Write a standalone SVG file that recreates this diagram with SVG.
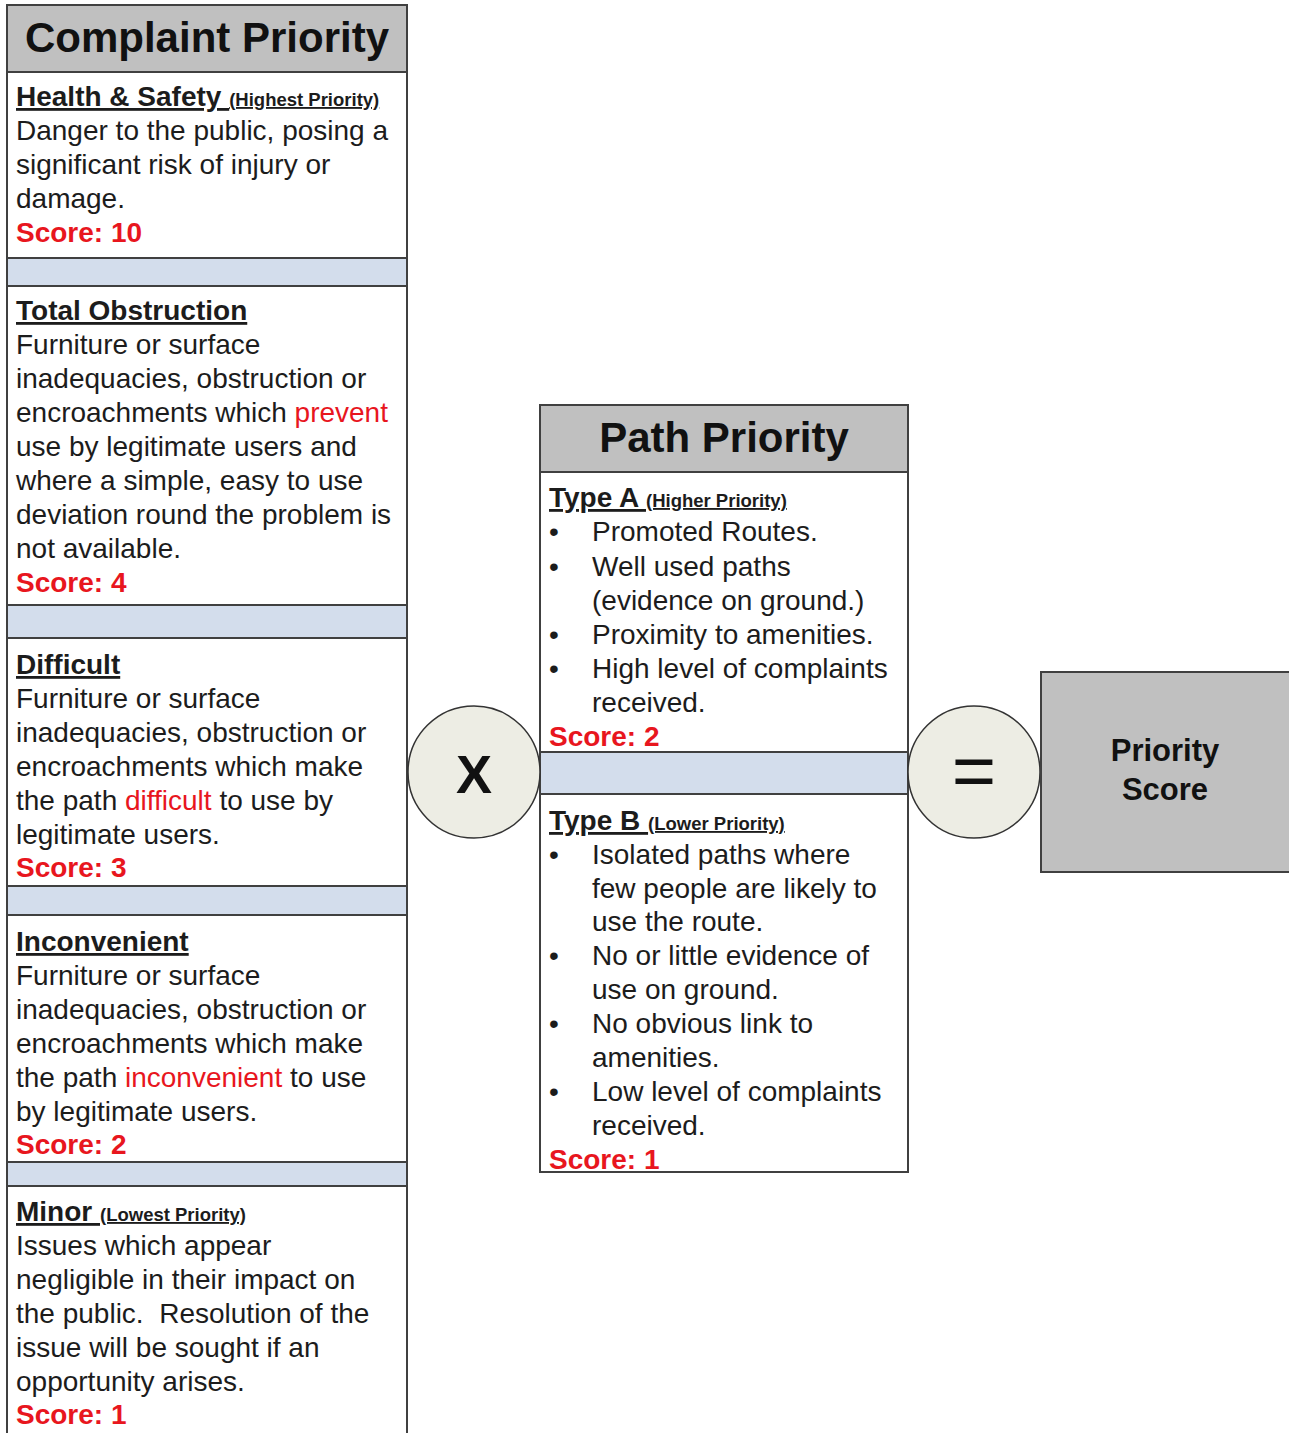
<svg xmlns="http://www.w3.org/2000/svg" width="1289" height="1433" viewBox="0 0 1289 1433">
<style>
.box{fill:#ffffff;stroke:#404040;stroke-width:2}
.hdr{fill:#c0c0c0;stroke:#404040;stroke-width:2}
.sep{fill:#d3ddec;stroke:#404040;stroke-width:2}
.op{fill:#ededE4;stroke:#333;stroke-width:1.5}
text{font-family:"Liberation Sans",Arial,sans-serif;fill:#1c1c1c}
.title{font-size:42px;font-weight:bold;text-anchor:middle;fill:#111}
.h{font-size:28px;font-weight:bold;text-decoration:underline}
.hs{font-size:18.5px}
.b{font-size:28px}
.s{font-size:28px;font-weight:bold;fill:#e8161e}
.r{fill:#e8161e}
</style>
<rect width="1289" height="1433" fill="#ffffff"/>
<g id="connectors"/>
<g id="complaint-priority">
<rect class="hdr" x="7" y="5" width="400" height="67"/>
<text class="title" x="207" y="52">Complaint Priority</text>
</g>
<g id="health-safety">
<rect class="box" x="7" y="72" width="400" height="186"/>
<text class="h" x="16" y="106">Health &amp; Safety <tspan class="hs">(Highest Priority)</tspan></text>
<text class="b" x="16" y="140">Danger to the public, posing a</text>
<text class="b" x="16" y="174">significant risk of injury or</text>
<text class="b" x="16" y="208">damage.</text>
<text class="s" x="16" y="242">Score: 10</text>
</g>
<rect class="sep" x="7" y="258" width="400" height="28"/>
<g id="total-obstruction">
<rect class="box" x="7" y="286" width="400" height="319"/>
<text class="h" x="16" y="320">Total Obstruction</text>
<text class="b" x="16" y="354">Furniture or surface</text>
<text class="b" x="16" y="388">inadequacies, obstruction or</text>
<text class="b" x="16" y="422">encroachments which <tspan class="r">prevent</tspan></text>
<text class="b" x="16" y="456">use by legitimate users and</text>
<text class="b" x="16" y="490">where a simple, easy to use</text>
<text class="b" x="16" y="524">deviation round the problem is</text>
<text class="b" x="16" y="558">not available.</text>
<text class="s" x="16" y="592">Score: 4</text>
</g>
<rect class="sep" x="7" y="605" width="400" height="33"/>
<g id="difficult">
<rect class="box" x="7" y="638" width="400" height="248"/>
<text class="h" x="16" y="674">Difficult</text>
<text class="b" x="16" y="708">Furniture or surface</text>
<text class="b" x="16" y="742">inadequacies, obstruction or</text>
<text class="b" x="16" y="776">encroachments which make</text>
<text class="b" x="16" y="810">the path <tspan class="r">difficult</tspan> to use by</text>
<text class="b" x="16" y="844">legitimate users.</text>
<text class="s" x="16" y="877">Score: 3</text>
</g>
<rect class="sep" x="7" y="886" width="400" height="29"/>
<g id="inconvenient">
<rect class="box" x="7" y="915" width="400" height="247"/>
<text class="h" x="16" y="951">Inconvenient</text>
<text class="b" x="16" y="985">Furniture or surface</text>
<text class="b" x="16" y="1019">inadequacies, obstruction or</text>
<text class="b" x="16" y="1053">encroachments which make</text>
<text class="b" x="16" y="1087">the path <tspan class="r">inconvenient</tspan> to use</text>
<text class="b" x="16" y="1121">by legitimate users.</text>
<text class="s" x="16" y="1154">Score: 2</text>
</g>
<rect class="sep" x="7" y="1162" width="400" height="24"/>
<g id="minor">
<rect class="box" x="7" y="1186" width="400" height="260"/>
<text class="h" x="16" y="1221">Minor <tspan class="hs">(Lowest Priority)</tspan></text>
<text class="b" x="16" y="1255">Issues which appear</text>
<text class="b" x="16" y="1289">negligible in their impact on</text>
<text class="b" x="16" y="1323">the public.&#160; Resolution of the</text>
<text class="b" x="16" y="1357">issue will be sought if an</text>
<text class="b" x="16" y="1391">opportunity arises.</text>
<text class="s" x="16" y="1424">Score: 1</text>
</g>
<g id="path-priority">
<rect class="hdr" x="540" y="405" width="368" height="67"/>
<text class="title" x="724" y="452">Path Priority</text>
</g>
<g id="type-a">
<rect class="box" x="540" y="472" width="368" height="280"/>
<text class="h" x="549" y="507">Type A <tspan class="hs">(Higher Priority)</tspan></text>
<text class="b" x="549" y="541">•</text><text class="b" x="592" y="541">Promoted Routes.</text>
<text class="b" x="549" y="576">•</text><text class="b" x="592" y="576">Well used paths</text>
<text class="b" x="592" y="610">(evidence on ground.)</text>
<text class="b" x="549" y="644">•</text><text class="b" x="592" y="644">Proximity to amenities.</text>
<text class="b" x="549" y="678">•</text><text class="b" x="592" y="678">High level of complaints</text>
<text class="b" x="592" y="712">received.</text>
<text class="s" x="549" y="746">Score: 2</text>
</g>
<rect class="sep" x="540" y="752" width="368" height="42"/>
<g id="type-b">
<rect class="box" x="540" y="794" width="368" height="378"/>
<text class="h" x="549" y="830">Type B <tspan class="hs">(Lower Priority)</tspan></text>
<text class="b" x="549" y="864">•</text><text class="b" x="592" y="864">Isolated paths where</text>
<text class="b" x="592" y="898">few people are likely to</text>
<text class="b" x="592" y="931">use the route.</text>
<text class="b" x="549" y="965">•</text><text class="b" x="592" y="965">No or little evidence of</text>
<text class="b" x="592" y="999">use on ground.</text>
<text class="b" x="549" y="1033">•</text><text class="b" x="592" y="1033">No obvious link to</text>
<text class="b" x="592" y="1067">amenities.</text>
<text class="b" x="549" y="1101">•</text><text class="b" x="592" y="1101">Low level of complaints</text>
<text class="b" x="592" y="1135">received.</text>
<text class="s" x="549" y="1169">Score: 1</text>
</g>
<g id="multiply">
<circle class="op" cx="474" cy="772" r="66"/>
<text x="474" y="793" style="font-size:54px;font-weight:bold;text-anchor:middle;fill:#111">X</text>
</g>
<g id="equals">
<circle class="op" cx="974" cy="772" r="66"/>
<text x="974" y="797" style="font-size:76px;text-anchor:middle;fill:#111">=</text>
</g>
<g id="priority-score">
<rect class="hdr" x="1041" y="672" width="260" height="200"/>
<text x="1165" y="761" style="font-size:31px;font-weight:bold;text-anchor:middle;fill:#111">Priority</text>
<text x="1165" y="800" style="font-size:31px;font-weight:bold;text-anchor:middle;fill:#111">Score</text>
</g>
</svg>
